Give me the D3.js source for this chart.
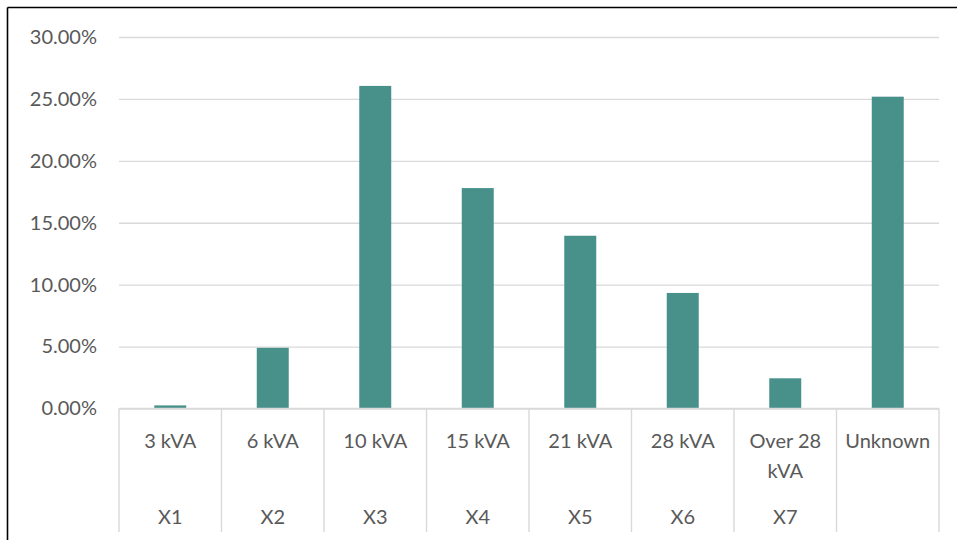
<!DOCTYPE html>
<html>
<head>
<meta charset="utf-8">
<script src="https://cdn.jsdelivr.net/npm/d3@7"></script>
<style>
  html, body { margin: 0; padding: 0; background: #ffffff; }
  svg { display: block; }
  text { font-family: Lato, "Open Sans", sans-serif; fill: #595959; }
</style>
</head>
<body>
<svg id="chart" width="957" height="540"></svg>
<script>
// Share of installations by rated capacity
const categories = ["3 kVA", "6 kVA", "10 kVA", "15 kVA", "21 kVA", "28 kVA", "Over 28 kVA", "Unknown"];
const groups = ["X1", "X2", "X3", "X4", "X5", "X6", "X7", ""];
const shares = [0.0025, 0.049, 0.2605, 0.178, 0.1395, 0.0933, 0.0244, 0.2518];
const yTicks = [0, 0.05, 0.10, 0.15, 0.20, 0.25, 0.30];

const W = 957, H = 540;
const margin = { left: 119, right: 18, top: 37, bottom: 131 };
const svg = d3.select("#chart");

// Frame (only top and left edges fall inside the view)
svg.append("line").attr("x1", 7.5).attr("x2", W + 5).attr("y1", 7.5).attr("y2", 7.5)
  .attr("stroke", "#000").attr("stroke-width", 1.6);
svg.append("line").attr("x1", 7.5).attr("x2", 7.5).attr("y1", 7.5).attr("y2", H + 5)
  .attr("stroke", "#000").attr("stroke-width", 1.6);

const x = d3.scaleBand().domain(categories)
  .range([margin.left, W - margin.right]).padding(0);
const y = d3.scaleLinear().domain([0, 0.30]).range([H - margin.bottom - 0.5, margin.top]);

const gridColor = "#d9d9d9";

// Horizontal gridlines + y labels
const yAxis = d3.axisLeft(y).tickValues(yTicks).tickFormat(d3.format(".2%"))
  .tickSize(-(x.range()[1] - x.range()[0])).tickPadding(22);
const gy = svg.append("g").attr("transform", `translate(${margin.left},0)`).call(yAxis);
gy.select(".domain").remove();
gy.selectAll(".tick line").attr("stroke", gridColor).attr("stroke-width", 1.4);
gy.selectAll(".tick text").attr("font-size", 20).attr("fill", "#595959")
  .attr("font-family", "Lato, 'Open Sans', sans-serif");

// Bars
const barW = x.bandwidth() * 0.312;
svg.append("g").selectAll("rect").data(categories).join("rect")
  .attr("x", d => x(d) + (x.bandwidth() - barW) / 2)
  .attr("width", barW)
  .attr("y", (d, i) => y(shares[i]))
  .attr("height", (d, i) => y(0) - y(shares[i]))
  .attr("fill", "#48918a");

// X axis baseline and category dividers
const y0 = y(0);
const axisBottom = 532;
svg.append("line").attr("x1", x.range()[0]).attr("x2", x.range()[1])
  .attr("y1", y0).attr("y2", y0).attr("stroke", gridColor).attr("stroke-width", 1.4);
const bounds = categories.map(d => x(d)).concat([x.range()[1]]);
svg.append("g").selectAll("line").data(bounds).join("line")
  .attr("x1", d => d).attr("x2", d => d)
  .attr("y1", y0).attr("y2", axisBottom)
  .attr("stroke", gridColor).attr("stroke-width", 1.4);

// Category labels, wrapped to the band width
const catG = svg.append("g");
categories.forEach(c => {
  const cx = x(c) + x.bandwidth() / 2;
  const t = catG.append("text").attr("x", cx).attr("y", 448)
    .attr("text-anchor", "middle").attr("font-size", 20);
  const words = c.split(" ");
  let line = [], lineNo = 0;
  let tspan = t.append("tspan").attr("x", cx).attr("dy", 0);
  words.forEach(w => {
    line.push(w);
    tspan.text(line.join(" "));
    if (tspan.node().getComputedTextLength() > x.bandwidth() - 6 && line.length > 1) {
      line.pop();
      tspan.text(line.join(" "));
      line = [w];
      lineNo++;
      tspan = t.append("tspan").attr("x", cx).attr("dy", 30).text(w);
    }
  });
});

// Group labels (second level)
svg.append("g").selectAll("text").data(categories).join("text")
  .attr("x", d => x(d) + x.bandwidth() / 2)
  .attr("y", 524)
  .attr("text-anchor", "middle").attr("font-size", 20)
  .text((d, i) => groups[i]);
</script>
</body>
</html>
